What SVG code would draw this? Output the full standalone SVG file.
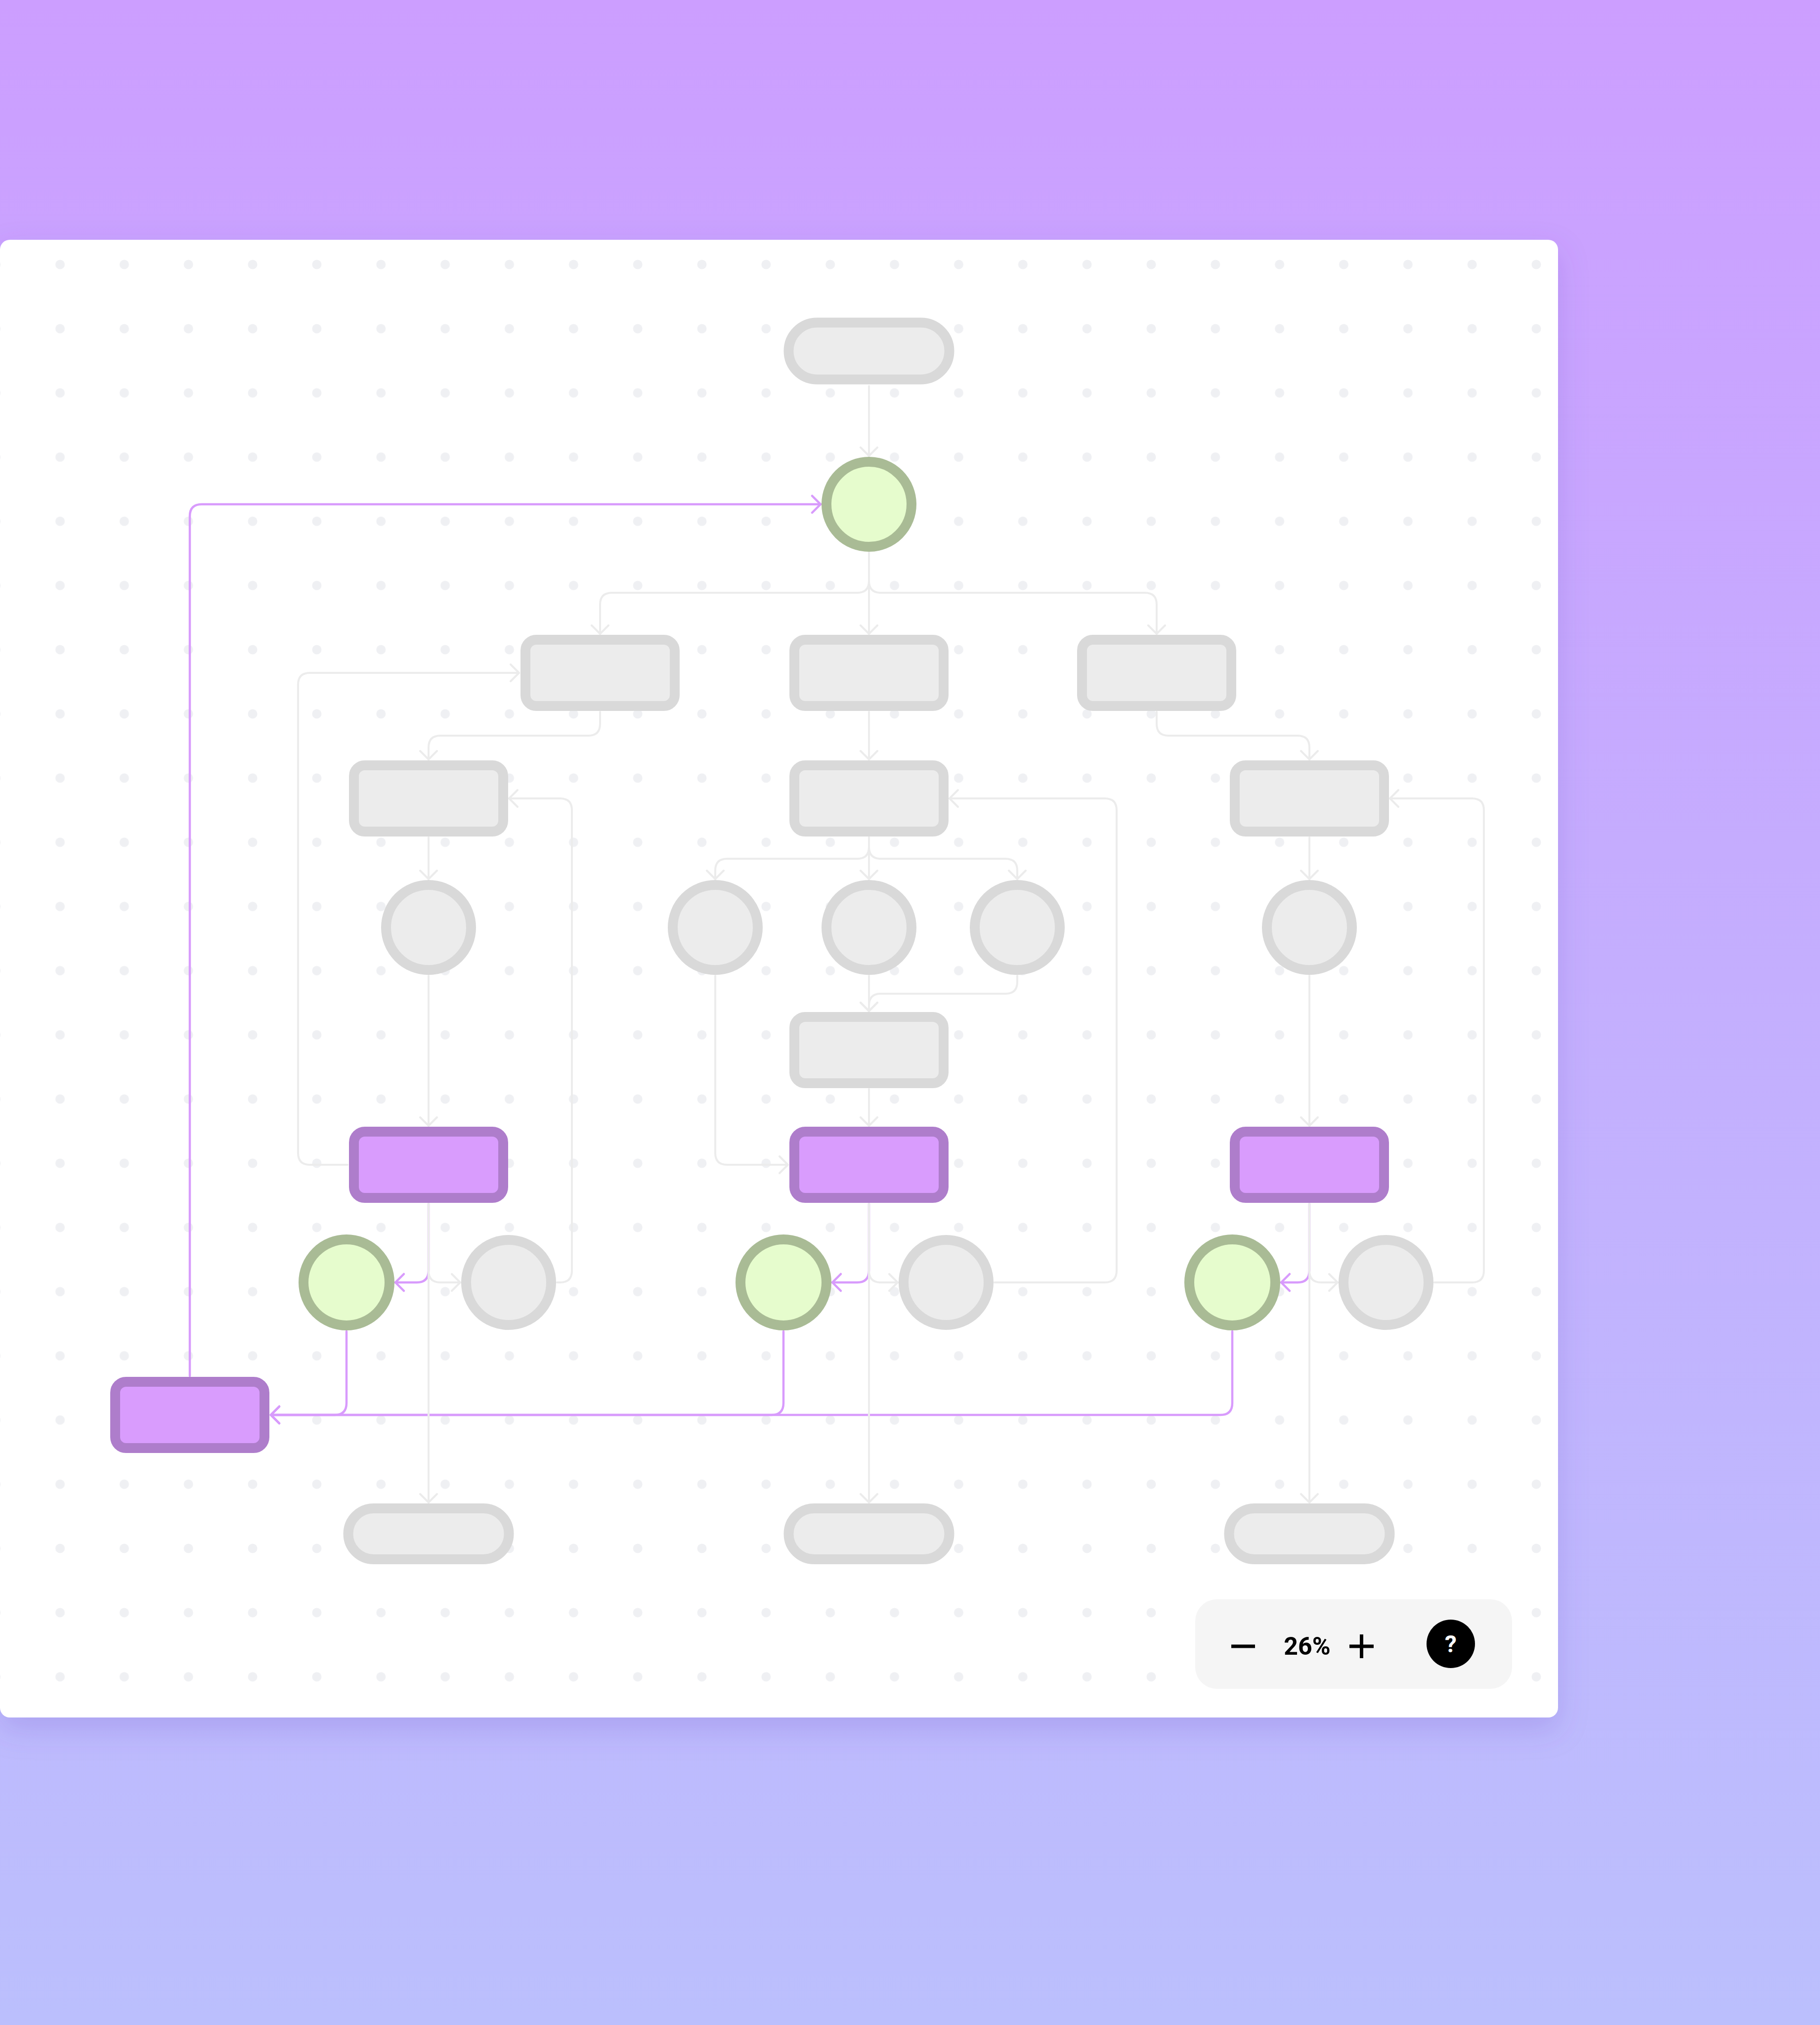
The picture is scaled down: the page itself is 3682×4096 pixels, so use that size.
<svg xmlns="http://www.w3.org/2000/svg" width="3682" height="4096" viewBox="0 0 3682 4096">
<defs>
<linearGradient id="bg" x1="0" y1="0" x2="0" y2="1">
<stop offset="0" stop-color="#cc9eff"/>
<stop offset="1" stop-color="#bbbffd"/>
</linearGradient>
<filter id="shadow" x="-10%" y="-10%" width="120%" height="120%">
<feDropShadow dx="0" dy="24" stdDeviation="30" flood-color="#6a4fc4" flood-opacity="0.22"/>
</filter>
<pattern id="dots" patternUnits="userSpaceOnUse" x="56.6" y="470.1" width="129.85" height="129.85">
<circle cx="64.925" cy="64.925" r="9.5" fill="#eff0f3"/>
</pattern>
<clipPath id="cardclip"><rect x="0" y="485" width="3152" height="2989" rx="20"/></clipPath>
<marker id="ag" viewBox="-24 -24 28 48" refX="0" refY="0" markerWidth="28" markerHeight="48" markerUnits="userSpaceOnUse" orient="auto">
<path d="M-17,-17 L0,0 L-17,17" fill="none" stroke="#ececec" stroke-width="4" stroke-linecap="round" stroke-linejoin="round"/>
</marker>
<marker id="ap" viewBox="-24 -24 28 48" refX="0" refY="0" markerWidth="28" markerHeight="48" markerUnits="userSpaceOnUse" orient="auto">
<path d="M-17,-17 L0,0 L-17,17" fill="none" stroke="#d89bfc" stroke-width="4.5" stroke-linecap="round" stroke-linejoin="round"/>
</marker>
</defs>
<style>
.g { fill:#ececec; stroke:#d9d9d9; stroke-width:20; }
.gr { fill:#e6fccd; stroke:#a9bb95; stroke-width:20; }
.pu { fill:#d99cfd; stroke:#ae7dcb; stroke-width:20; }
.cg { fill:none; stroke:#ececec; stroke-width:4; stroke-linecap:round; stroke-linejoin:round; }
.cg.a { marker-end:url(#ag); }
.cp { fill:none; stroke:#d89bfc; stroke-width:4.5; stroke-linecap:round; stroke-linejoin:round; }
.cp.a { marker-end:url(#ap); }
.ui { stroke:#000; stroke-width:7; }
</style>

<rect x="0" y="0" width="3682" height="4096" fill="url(#bg)"/>
<rect x="0" y="485" width="3152" height="2989" rx="20" fill="#ffffff" filter="url(#shadow)"/>
<rect x="0" y="485" width="3152" height="2989" fill="url(#dots)" clip-path="url(#cardclip)"/>

<g id="connectors">
<g id="purple-connectors">
<path class="cp a" d="M867 2435 V2570 Q867 2594 843 2594 H800"/>
<path class="cp a" d="M1758 2435 V2570 Q1758 2594 1734 2594 H1684"/>
<path class="cp a" d="M2649 2435 V2570 Q2649 2594 2625 2594 H2592"/>
<path class="cp a" d="M701 2693 V2838 Q701 2862 677 2862 H548"/>
<path class="cp a" d="M1585 2693 V2838 Q1585 2862 1561 2862 H548"/>
<path class="cp a" d="M2493 2693 V2838 Q2493 2862 2469 2862 H548"/>
<path class="cp a" d="M384 2783 V1044 Q384 1020 408 1020 H1660"/>
</g>
<g id="gray-connectors">
<path class="cg a" d="M1758 781 V922"/>
<path class="cg a" d="M1758 1118 V1175 Q1758 1199 1734 1199 H1238 Q1214 1199 1214 1223 V1282"/>
<path class="cg a" d="M1758 1118 V1282"/>
<path class="cg a" d="M1758 1118 V1175 Q1758 1199 1782 1199 H2316 Q2340 1199 2340 1223 V1282"/>
<path class="cg a" d="M1214 1440 V1464 Q1214 1488 1190 1488 H891 Q867 1488 867 1512 V1536"/>
<path class="cg a" d="M1758 1440 V1536"/>
<path class="cg a" d="M2340 1440 V1464 Q2340 1488 2364 1488 H2625 Q2649 1488 2649 1512 V1536"/>
<path class="cg a" d="M867 1694 V1778"/>
<path class="cg a" d="M1758 1694 V1713 Q1758 1737 1734 1737 H1471 Q1447 1737 1447 1761 V1778"/>
<path class="cg a" d="M1758 1694 V1778"/>
<path class="cg a" d="M1758 1694 V1713 Q1758 1737 1782 1737 H2034 Q2058 1737 2058 1761 V1778"/>
<path class="cg a" d="M2649 1694 V1778"/>
<path class="cg a" d="M1758 1974 V2045"/>
<path class="cg a" d="M2058 1974 V1986 Q2058 2010 2034 2010 H1782 Q1758 2010 1758 2034 V2045"/>
<path class="cg a" d="M1447 1974 V2332 Q1447 2356 1471 2356 H1594"/>
<path class="cg a" d="M1758 2203 V2277"/>
<path class="cg a" d="M867 1974 V2277"/>
<path class="cg a" d="M2649 1974 V2277"/>
<path class="cg a" d="M703 2356 H627 Q603 2356 603 2332 V1385 Q603 1361 627 1361 H1050"/>
<path class="cg a" d="M867 2435 V3039"/>
<path class="cg a" d="M867 2435 V2570 Q867 2594 891 2594 H931"/>
<path class="cg a" d="M1127 2594 H1133 Q1157 2594 1157 2570 V1639 Q1157 1615 1133 1615 H1030"/>
<path class="cg a" d="M1758 2435 V3039"/>
<path class="cg a" d="M1758 2435 V2570 Q1758 2594 1782 2594 H1816"/>
<path class="cg a" d="M2012 2594 H2235 Q2259 2594 2259 2570 V1639 Q2259 1615 2235 1615 H1921"/>
<path class="cg a" d="M2649 2435 V3039"/>
<path class="cg a" d="M2649 2435 V2570 Q2649 2594 2673 2594 H2706"/>
<path class="cg a" d="M2902 2594 H2978 Q3002 2594 3002 2570 V1639 Q3002 1615 2978 1615 H2812"/>
</g>
</g>

<g id="start"><rect class="g" x="1595.5" y="652.5" width="325" height="115" rx="57.5"/></g>
<g id="hub"><circle class="gr" cx="1758" cy="1020" r="86"/></g>

<g id="r1-left"><rect class="g" x="1063" y="1294" width="302" height="134" rx="22"/></g>
<g id="r1-mid"><rect class="g" x="1607" y="1294" width="302" height="134" rx="22"/></g>
<g id="r1-right"><rect class="g" x="2189" y="1294" width="302" height="134" rx="22"/></g>

<g id="r2-left"><rect class="g" x="716" y="1548" width="302" height="134" rx="22"/></g>
<g id="r2-mid"><rect class="g" x="1607" y="1548" width="302" height="134" rx="22"/></g>
<g id="r2-right"><rect class="g" x="2498" y="1548" width="302" height="134" rx="22"/></g>

<g id="c3-left"><circle class="g" cx="867" cy="1876" r="86"/></g>
<g id="c3-a"><circle class="g" cx="1447" cy="1876" r="86"/></g>
<g id="c3-b"><circle class="g" cx="1758" cy="1876" r="86"/></g>
<g id="c3-c"><circle class="g" cx="2058" cy="1876" r="86"/></g>
<g id="c3-right"><circle class="g" cx="2649" cy="1876" r="86"/></g>

<g id="r4-mid"><rect class="g" x="1607" y="2057" width="302" height="134" rx="22"/></g>

<g id="p5-left"><rect class="pu" x="716" y="2289" width="302" height="134" rx="22"/></g>
<g id="p5-mid"><rect class="pu" x="1607" y="2289" width="302" height="134" rx="22"/></g>
<g id="p5-right"><rect class="pu" x="2498" y="2289" width="302" height="134" rx="22"/></g>

<g id="c6-left-green"><circle class="gr" cx="701" cy="2594" r="87"/></g>
<g id="c6-left-grey"><circle class="g" cx="1029" cy="2594" r="86"/></g>
<g id="c6-mid-green"><circle class="gr" cx="1585" cy="2594" r="87"/></g>
<g id="c6-mid-grey"><circle class="g" cx="1914" cy="2594" r="86"/></g>
<g id="c6-right-green"><circle class="gr" cx="2493" cy="2594" r="87"/></g>
<g id="c6-right-grey"><circle class="g" cx="2804" cy="2594" r="86"/></g>

<g id="collector"><rect class="pu" x="233" y="2795" width="302" height="134" rx="22"/></g>

<g id="end-left"><rect class="g" x="704.5" y="3051" width="325" height="103" rx="51.5"/></g>
<g id="end-mid"><rect class="g" x="1595.5" y="3051" width="325" height="103" rx="51.5"/></g>
<g id="end-right"><rect class="g" x="2486.5" y="3051" width="325" height="103" rx="51.5"/></g>

<g id="zoom-control">
<rect x="2418" y="3235" width="641" height="181" rx="44" fill="#f5f5f5"/>
<line class="ui" x1="2491" y1="3330" x2="2539" y2="3330"/>
<text x="2644.5" y="3347" font-family="Roboto, 'Liberation Sans', sans-serif" font-weight="700" font-size="50" text-anchor="middle" fill="#000">26%</text>
<line class="ui" x1="2730" y1="3330" x2="2779" y2="3330"/>
<line class="ui" x1="2754.5" y1="3306" x2="2754.5" y2="3354"/>
<circle cx="2935" cy="3325" r="49" fill="#000"/>
<text x="2935" y="3342" font-family="Roboto, 'Liberation Sans', sans-serif" font-weight="700" font-size="48" text-anchor="middle" fill="#fff">?</text>
</g>
</svg>
